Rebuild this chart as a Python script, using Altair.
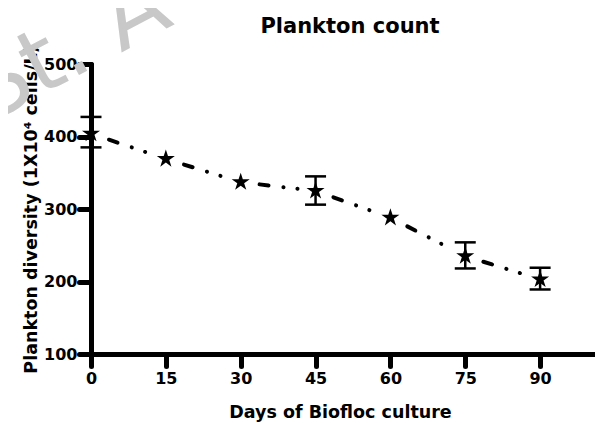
import altair as alt
import pandas as pd

# ---- data ----
days = [0, 15, 30, 45, 60, 75, 90]
plankton = [404, 369, 337, 325, 288, 235, 203]
err_low = [385, None, None, 306, None, 218, 189]
err_high = [427, None, None, 345, None, 254, 219]
x_ticks = [0, 15, 30, 45, 60, 75, 90]
y_ticks = [100, 200, 300, 400, 500]
chart_title = "Plankton count"
x_title = "Days of Biofloc culture"
y_title = "Plankton diversity (1X10⁴ cells/L)"
watermark_text = "St. A"

pts = pd.DataFrame({"day": days, "value": plankton})
err = pd.DataFrame({"day": days, "lo": err_low, "hi": err_high}).dropna()
segs = []
for i in range(len(days) - 1):
    segs.append({"day": days[i], "value": plankton[i], "seg": i})
    segs.append({"day": days[i + 1], "value": plankton[i + 1], "seg": i})
seg_df = pd.DataFrame(segs)

FONT = "DejaVu Sans"
STAR = ("M0,-1 L0.225,-0.309 L0.951,-0.309 L0.363,0.118 L0.588,0.809 "
        "L0,0.382 L-0.588,0.809 L-0.363,0.118 L-0.951,-0.309 L-0.225,-0.309 Z")

x_scale = alt.Scale(domain=[0, 101], nice=False, zero=False)
y_scale = alt.Scale(domain=[100, 500], nice=False, zero=False)

x_enc = alt.X("day:Q", scale=x_scale,
              axis=alt.Axis(values=x_ticks, title=x_title, titleX=249,
                            labelPadding=4, titlePadding=17, format="d"))
y_enc = alt.Y("value:Q", scale=y_scale,
              axis=alt.Axis(values=y_ticks, title=y_title,
                            labelPadding=2, titlePadding=3, format="d"))

watermark = alt.Chart(pd.DataFrame({"t": [watermark_text]})).mark_text(
    font=FONT, fontSize=90, color="#c8c8c8", angle=332, align="left",
    baseline="alphabetic"
).encode(x=alt.value(-102), y=alt.value(59), text="t:N")

title = alt.Chart(pd.DataFrame({"t": [chart_title]})).mark_text(
    font=FONT, fontSize=21, fontWeight="bold", color="black", align="center",
    baseline="alphabetic"
).encode(x=alt.value(259), y=alt.value(-31), text="t:N")

line = alt.Chart(seg_df).mark_line(
    color="black", strokeWidth=4, strokeCap="round",
    strokeDash=[9, 15, 0.1, 14, 0.1, 60], strokeDashOffset=79.2
).encode(x=x_enc, y=y_enc, detail="seg:N")

rule = alt.Chart(err).mark_rule(color="black", strokeWidth=2.5).encode(
    x="day:Q", y="lo:Q", y2="hi:Q")
cap_lo = alt.Chart(err).mark_tick(color="black", orient="horizontal", size=21,
                                  thickness=2.5, opacity=1).encode(x="day:Q", y="lo:Q")
cap_hi = alt.Chart(err).mark_tick(color="black", orient="horizontal", size=21,
                                  thickness=2.5, opacity=1).encode(x="day:Q", y="hi:Q")

stars = alt.Chart(pts).mark_point(
    shape=STAR, filled=True, size=360, color="black", opacity=1, strokeWidth=0
).encode(x="day:Q", y="value:Q")

chart = alt.layer(watermark, title, line, rule, cap_lo, cap_hi, stars).properties(
    width=504, height=290,
    autosize=alt.AutoSizeParams(type="none"),
    padding={"left": 83, "top": 56, "right": 0, "bottom": 69},
).configure_view(stroke=None).configure_axis(
    labelFont=FONT, labelFontSize=16, labelFontWeight="bold", labelColor="black",
    titleFont=FONT, titleFontSize=17.5, titleFontWeight="bold", titleColor="black",
    domainColor="black", domainWidth=5, domainCap="round",
    tickColor="black", tickWidth=5, tickSize=12, tickCap="round",
    grid=False, zindex=1, labelFlush=False, labelOverlap=False
)

chart.save("out.html", embed_options={"renderer": "svg", "actions": False})
